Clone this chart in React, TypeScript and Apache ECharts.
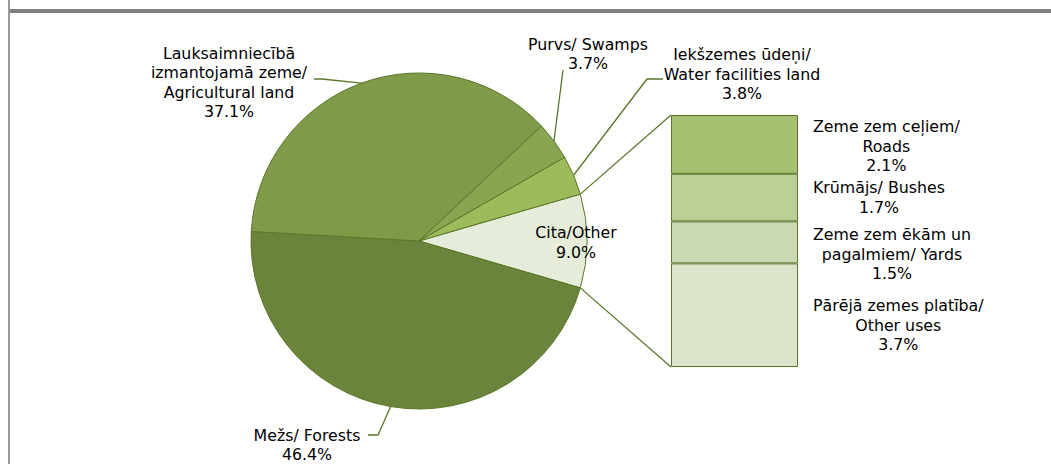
import React, { useEffect, useRef } from 'react';
import * as echarts from 'echarts';

// ---- Data ----
const pieNames = [
  'Cita/Other',
  'Mežs/ Forests',
  'Lauksaimniecībā\nizmantojamā zeme/\nAgricultural land',
  'Purvs/ Swamps',
  'Iekšzemes ūdeņi/\nWater facilities land',
];
const pieValues = [9.0, 46.4, 37.1, 3.7, 3.8];
const pieColors = ['#E6ECDA', '#6B843B', '#7F9A48', '#88A552', '#9CBB5A'];

const otherNames = [
  'Zeme zem ceļiem/\nRoads',
  'Krūmājs/ Bushes',
  'Zeme zem ēkām un\npagalmiem/ Yards',
  'Pārējā zemes platība/\nOther uses',
];
const otherValues = [2.1, 1.7, 1.5, 3.7];
const otherColors = ['#A6C06F', '#BBCF97', '#CAD9B1', '#DBE5CB'];

// ---- Layout / style ----
const FONT = 'DejaVu Sans';
const FS = 15.8;
const LH = 19.5;
const LINE = '#5A7629';
const CX = 419;
const CY = 241;
const R = 168;
const GRID = { left: 671, top: 115, width: 127, height: 252 };

const pieLabelPos: { x: number; y: number; line: number[][] | null }[] = [
  { x: 576, y: 242.5, line: null },
  { x: 307, y: 445, line: [[378, 435], [368, 435]] },
  { x: 229, y: 82.5, line: [[322, 79], [314, 79]] },
  { x: 588, y: 54, line: [[563, 70], [563, 70]] },
  { x: 742, y: 74, line: [[647, 79], [663, 79]] },
];
const barLabelDy = [2, 0, 12, 10];

export default function App() {
  const ref = useRef<HTMLDivElement>(null);
  useEffect(() => {
    if (!ref.current) return;
    const chart = echarts.init(ref.current, null, { renderer: 'svg' });
    const half = (pieValues[0] / 100) * Math.PI; // half-angle of the "Other" slice
    const startDeg = (pieValues[0] / 100) * 180;
    const pTop = [CX + R * Math.cos(half), CY - R * Math.sin(half)];
    const pBot = [CX + R * Math.cos(half), CY + R * Math.sin(half)];

    const option: any = {
      animation: false,
      backgroundColor: '#ffffff',
      grid: { ...GRID, containLabel: false },
      xAxis: { type: 'category', data: [''], show: false },
      yAxis: { type: 'value', min: 0, max: pieValues[0], inverse: true, show: false },
      graphic: [
        { type: 'rect', shape: { x: 8, y: 0, width: 2, height: 464 }, style: { fill: '#9a9a9a' }, silent: true },
        { type: 'rect', shape: { x: 10, y: 9, width: 1041, height: 4 }, style: { fill: '#808080' }, silent: true },
        { type: 'line', shape: { x1: pTop[0], y1: pTop[1], x2: GRID.left, y2: GRID.top }, style: { stroke: LINE, lineWidth: 1.3 }, silent: true },
        { type: 'line', shape: { x1: pBot[0], y1: pBot[1], x2: GRID.left, y2: GRID.top + GRID.height }, style: { stroke: LINE, lineWidth: 1.3 }, silent: true },
      ],
      series: [
        {
          type: 'pie',
          center: [CX, CY],
          radius: R,
          startAngle: startDeg,
          clockwise: true,
          avoidLabelOverlap: false,
          silent: true,
          emphasis: { disabled: true },
          data: pieNames.map((n, i) => ({
            name: n,
            value: pieValues[i],
            itemStyle: { color: pieColors[i] },
            ...(i === 0 ? { label: { position: 'inside' }, labelLine: { show: false } } : {}),
          })),
          itemStyle: { borderColor: LINE, borderWidth: 1 },
          label: {
            show: true,
            position: 'outside',
            formatter: (p: any) => `${p.name}\n${Number(p.value).toFixed(1)}%`,
            color: '#000',
            fontFamily: FONT,
            fontSize: FS,
            lineHeight: LH,
          },
          labelLine: { show: true, length: 10, length2: 10, lineStyle: { color: LINE, width: 1.3 } },
          labelLayout: (p: any) => {
            const L = pieLabelPos[p.dataIndex];
            const o: any = { x: L.x, y: L.y, align: 'center', verticalAlign: 'middle' };
            if (L.line && p.labelLinePoints && p.labelLinePoints[0]) {
              o.labelLinePoints = [p.labelLinePoints[0], ...L.line];
            }
            return o;
          },
        },
        ...otherNames.map((n, i) => ({
          type: 'bar',
          name: n,
          stack: 'other',
          barWidth: '100%',
          silent: true,
          emphasis: { disabled: true },
          data: [otherValues[i]],
          itemStyle: { color: otherColors[i], borderColor: LINE, borderWidth: 1 },
          label: {
            show: true,
            position: [GRID.width + 15, '50%'],
            align: 'left',
            verticalAlign: 'middle',
            offset: [0, barLabelDy[i]],
            formatter: `${n}\n${otherValues[i].toFixed(1)}%`
              .split('\n')
              .map((s) => `{c|${s}}`)
              .join('\n'),
            color: '#000',
            fontFamily: FONT,
            fontSize: FS,
            lineHeight: LH,
            rich: {
              c: { align: 'center', color: '#000', fontFamily: FONT, fontSize: FS, lineHeight: LH },
            },
          },
        })),
      ],
    };
    chart.setOption(option);
    return () => chart.dispose();
  }, []);
  return (
    <div
      ref={ref}
      style={{ position: 'fixed', left: 0, top: 0, width: 1051, height: 464, background: '#fff' }}
    />
  );
}
